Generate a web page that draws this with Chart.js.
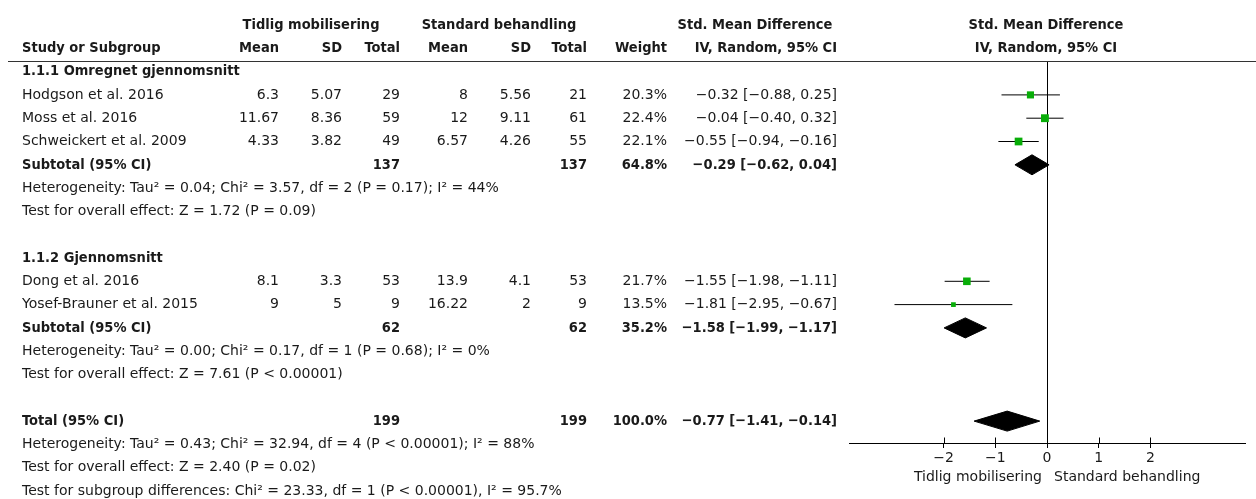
<!DOCTYPE html>
<html lang="no">
<head>
<meta charset="UTF-8">
<title>Forest plot - Tidlig mobilisering vs standard behandling</title>
<script src="https://cdn.jsdelivr.net/npm/chart.js"></script>
<style>
  html, body { margin: 0; padding: 0; background: #fff; }
  #wrap { position: relative; width: 1256px; height: 499px; }
</style>
</head>
<body>
<div id="wrap"><canvas id="forest"></canvas></div>
<script>
// --- study level data ---
const studyNames = ['Hodgson et al. 2016', 'Moss et al. 2016', 'Schweickert et al. 2009', 'Dong et al. 2016', 'Yosef-Brauner et al. 2015'];
const studyGroup = [0, 0, 0, 1, 1];
const expMean = [6.3, 11.67, 4.33, 8.1, 9];
const expSD = [5.07, 8.36, 3.82, 3.3, 5];
const expN = [29, 59, 49, 53, 9];
const ctlMean = [8, 12, 6.57, 13.9, 16.22];
const ctlSD = [5.56, 9.11, 4.26, 4.1, 2];
const ctlN = [21, 61, 55, 53, 9];
const studyWeight = [20.3, 22.4, 22.1, 21.7, 13.5];
const studySMD = [-0.32, -0.04, -0.55, -1.55, -1.81];
const studyLo = [-0.88, -0.40, -0.94, -1.98, -2.95];
const studyHi = [0.25, 0.32, -0.16, -1.11, -0.67];

// --- subgroups and overall ---
const groupTitles = ['1.1.1 Omregnet gjennomsnitt', '1.1.2 Gjennomsnitt'];
const pooledLabels = ['Subtotal (95% CI)', 'Subtotal (95% CI)', 'Total (95% CI)'];
const pooledExpN = [137, 62, 199];
const pooledCtlN = [137, 62, 199];
const pooledWeight = [64.8, 35.2, 100.0];
const pooledSMD = [-0.29, -1.58, -0.77];
const pooledLo = [-0.62, -1.99, -1.41];
const pooledHi = [0.04, -1.17, -0.14];
const pooledNotes = [
  ['Heterogeneity: Tau² = 0.04; Chi² = 3.57, df = 2 (P = 0.17); I² = 44%',
   'Test for overall effect: Z = 1.72 (P = 0.09)'],
  ['Heterogeneity: Tau² = 0.00; Chi² = 0.17, df = 1 (P = 0.68); I² = 0%',
   'Test for overall effect: Z = 7.61 (P < 0.00001)'],
  ['Heterogeneity: Tau² = 0.43; Chi² = 32.94, df = 4 (P < 0.00001); I² = 88%',
   'Test for overall effect: Z = 2.40 (P = 0.02)',
   'Test for subgroup differences: Chi² = 23.33, df = 1 (P < 0.00001), I² = 95.7%']
];

const xTicks = [-2, -1, 0, 1, 2];
const favoursLeft = 'Tidlig mobilisering';
const favoursRight = 'Standard behandling';

// lay the table out row by row (rows 0 and 1 are the header)
const rows = [];
let r = 2;
groupTitles.forEach((title, g) => {
  rows.push({ kind: 'title', text: title, row: r++ });
  studyNames.forEach((n, i) => {
    if (studyGroup[i] === g) rows.push({ kind: 'study', i: i, row: r++ });
  });
  rows.push({ kind: 'pooled', i: g, row: r++ });
  pooledNotes[g].forEach(t => rows.push({ kind: 'note', text: t, row: r++ }));
  r++; // blank line
});
rows.push({ kind: 'pooled', i: 2, row: r++ });
pooledNotes[2].forEach(t => rows.push({ kind: 'note', text: t, row: r++ }));

const studyRow = rows.filter(o => o.kind === 'study').sort((a, b) => a.i - b.i).map(o => o.row);
const pooledRow = rows.filter(o => o.kind === 'pooled').map(o => o.row);

const GREEN = '#08ad08';
const INK = '#1a1a1a';
const FONT = '"DejaVu Sans", Verdana, sans-serif';
const BOLD = 'bold 14.5px "DejaVu Sans Condensed", "DejaVu Sans", sans-serif';
const NORMAL = '14px ' + FONT;
const HALF_DIAMOND = 0.43; // in rows

// RevMan prints a long minus sign
const num = v => (v < 0 ? '\u2212' : '') + Math.abs(v).toFixed(2);
const ci = (e, lo, hi) => `${num(e)} [${num(lo)}, ${num(hi)}]`;

// --- datasets ---
const datasets = [];
datasets.push({
  label: 'studies',
  data: studySMD.map((v, i) => ({ x: v, y: studyRow[i] })),
  pointStyle: 'rect',
  pointRadius: ctx => (0.35 * studyWeight[ctx.dataIndex]) / (2 * Math.SQRT1_2),
  backgroundColor: GREEN,
  borderWidth: 0,
  order: -1
});
studyNames.forEach((n, i) => {
  datasets.push({
    label: n,
    data: [{ x: studyLo[i], y: studyRow[i] }, { x: studyHi[i], y: studyRow[i] }],
    showLine: true,
    borderColor: '#000',
    borderWidth: 1,
    pointRadius: 0,
    order: 1
  });
});
pooledLabels.forEach((n, i) => {
  const y = pooledRow[i];
  datasets.push({
    label: n,
    data: [
      { x: pooledLo[i], y: y },
      { x: pooledSMD[i], y: y - HALF_DIAMOND },
      { x: pooledHi[i], y: y },
      { x: pooledSMD[i], y: y + HALF_DIAMOND },
      { x: pooledLo[i], y: y }
    ],
    showLine: true,
    fill: 'shape',
    backgroundColor: '#000',
    borderColor: '#000',
    borderWidth: 1,
    pointRadius: 0,
    tension: 0,
    order: 1
  });
});

// table text, header rule, favours labels
const tablePlugin = {
  id: 'table',
  afterDraw(chart) {
    const c = chart.ctx;
    const ys = chart.scales.y, xs = chart.scales.x;
    const Y = row => ys.getPixelForValue(row);
    const txt = (s, x, row, align, font) => {
      c.font = font || NORMAL;
      c.textAlign = align || 'left';
      c.fillText(s, x, Y(row));
    };
    c.save();
    c.fillStyle = INK;
    c.textBaseline = 'middle';

    // header
    txt('Tidlig mobilisering', 311, 0, 'center', BOLD);
    txt('Standard behandling', 499, 0, 'center', BOLD);
    txt('Std. Mean Difference', 755, 0, 'center', BOLD);
    txt('Std. Mean Difference', 1046, 0, 'center', BOLD);
    txt('Study or Subgroup', 22, 1, 'left', BOLD);
    [['Mean', 279], ['SD', 342], ['Total', 400], ['Mean', 468], ['SD', 531], ['Total', 587], ['Weight', 667],
     ['IV, Random, 95% CI', 837]].forEach(([s, x]) => txt(s, x, 1, 'right', BOLD));
    txt('IV, Random, 95% CI', 1046, 1, 'center', BOLD);

    rows.forEach(o => {
      if (o.kind === 'title') txt(o.text, 22, o.row, 'left', BOLD);
      else if (o.kind === 'note') txt(o.text, 22, o.row, 'left', NORMAL);
      else if (o.kind === 'study') {
        const i = o.i;
        txt(studyNames[i], 22, o.row);
        txt(String(expMean[i]), 279, o.row, 'right');
        txt(String(expSD[i]), 342, o.row, 'right');
        txt(String(expN[i]), 400, o.row, 'right');
        txt(String(ctlMean[i]), 468, o.row, 'right');
        txt(String(ctlSD[i]), 531, o.row, 'right');
        txt(String(ctlN[i]), 587, o.row, 'right');
        txt(studyWeight[i].toFixed(1) + '%', 667, o.row, 'right');
        txt(ci(studySMD[i], studyLo[i], studyHi[i]), 837, o.row, 'right');
      } else if (o.kind === 'pooled') {
        const i = o.i;
        txt(pooledLabels[i], 22, o.row, 'left', BOLD);
        txt(String(pooledExpN[i]), 400, o.row, 'right', BOLD);
        txt(String(pooledCtlN[i]), 587, o.row, 'right', BOLD);
        txt(pooledWeight[i].toFixed(1) + '%', 667, o.row, 'right', BOLD);
        txt(ci(pooledSMD[i], pooledLo[i], pooledHi[i]), 837, o.row, 'right', BOLD);
      }
    });

    // header rule across the full width
    const top = Math.round(chart.chartArea.top) + 0.5;
    c.strokeStyle = '#333';
    c.lineWidth = 1;
    c.beginPath();
    c.moveTo(8, top);
    c.lineTo(chart.width, top);
    c.stroke();

    // tick marks also reach above the axis
    const bottom = Math.round(chart.chartArea.bottom) + 0.5;
    c.strokeStyle = '#000';
    c.beginPath();
    xTicks.forEach(v => {
      const x = Math.round(xs.getPixelForValue(v)) + 0.5;
      c.moveTo(x, bottom - 6);
      c.lineTo(x, bottom);
    });
    c.stroke();

    // favours labels
    const zero = xs.getPixelForValue(0);
    c.font = NORMAL;
    c.textAlign = 'right';
    c.fillText(favoursLeft, zero - 5, 477);
    c.textAlign = 'left';
    c.fillText(favoursRight, zero + 7, 477);
    c.restore();
  }
};

new Chart(document.getElementById('forest'), {
  type: 'scatter',
  data: { datasets: datasets },
  options: {
    responsive: true,
    maintainAspectRatio: false,
    animation: false,
    layout: { padding: { left: 849, right: 11, top: 61, bottom: 0 } },
    plugins: { legend: { display: false }, tooltip: { enabled: false } },
    scales: {
      x: {
        type: 'linear',
        min: -3.83,
        max: 3.83,
        afterBuildTicks: s => { s.ticks = xTicks.map(v => ({ value: v })); },
        afterFit: s => { s.height = 56; },
        grid: {
          drawOnChartArea: true,
          color: ctx => (ctx.tick && ctx.tick.value === 0 ? '#000' : 'rgba(0,0,0,0)'),
          tickColor: '#000',
          tickLength: 5,
          lineWidth: 1
        },
        border: { display: true, color: '#000', width: 1 },
        ticks: {
          color: INK,
          font: { family: FONT, size: 14 },
          padding: 2,
          maxRotation: 0,
          callback: v => (v < 0 ? '\u2212' : '') + Math.abs(v)
        }
      },
      y: {
        type: 'linear',
        reverse: true,
        min: 1.545,
        max: 17.94,
        display: false
      }
    }
  },
  plugins: [tablePlugin]
});
</script>
</body>
</html>
